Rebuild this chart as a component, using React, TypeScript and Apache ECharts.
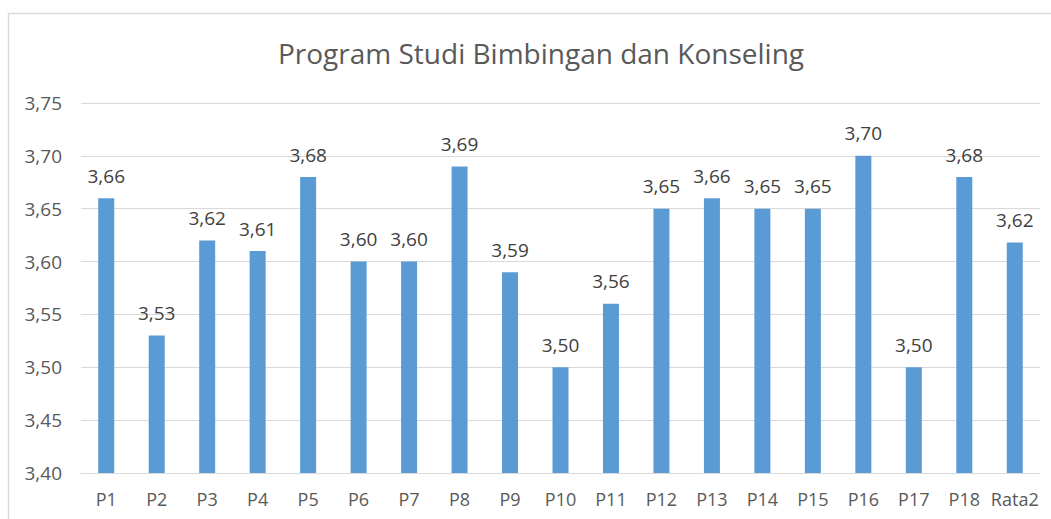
import React, { useEffect, useRef } from "react";
import * as echarts from "echarts";

const categories = ["P1","P2","P3","P4","P5","P6","P7","P8","P9","P10","P11","P12","P13","P14","P15","P16","P17","P18","Rata2"];
const values = [3.66,3.53,3.62,3.61,3.68,3.60,3.60,3.69,3.59,3.50,3.56,3.65,3.66,3.65,3.65,3.70,3.50,3.68,3.618];
const titleText = "Program Studi Bimbingan dan Konseling";

const fmt = (v: number) => v.toFixed(2).replace(".", ",");

export default function App() {
  const ref = useRef<HTMLDivElement>(null);
  useEffect(() => {
    if (!ref.current) return;
    const chart = echarts.init(ref.current, null, { renderer: "svg" });
    const font = "'Open Sans', 'Noto Sans', sans-serif";
    chart.setOption({
      animation: false,
      backgroundColor: "#ffffff",
      title: {
        text: titleText,
        left: 536,
        textAlign: "center",
        top: 34,
        textStyle: { fontFamily: font, fontSize: 28, fontWeight: "normal", color: "#595959" },
      },
      graphic: [
        {
          type: "rect",
          shape: { x: 8.5, y: 13.5, width: 1200, height: 700 },
          style: { fill: "none", stroke: "#d9d9d9", lineWidth: 1.5 },
          silent: true,
          z: -1,
        },
      ],
      grid: { left: 81, right: 11, top: 103, bottom: 46, containLabel: false },
      xAxis: {
        type: "category",
        data: categories,
        axisLine: { show: true, lineStyle: { color: "#d9d9d9", width: 1 } },
        axisTick: { show: false },
        axisLabel: { color: "#595959", fontFamily: font, fontSize: 18, margin: 17, interval: 0 },
      },
      yAxis: {
        type: "value",
        min: 3.4,
        max: 3.75,
        interval: 0.05,
        axisLine: { show: false },
        axisTick: { show: false },
        splitLine: { lineStyle: { color: "#d9d9d9", width: 1 } },
        axisLabel: {
          color: "#595959",
          fontFamily: font,
          fontSize: 19,
          margin: 19,
          formatter: (v: number) => fmt(v),
        },
      },
      series: [
        {
          type: "bar",
          data: values,
          barWidth: 16,
          itemStyle: { color: "#5b9bd5" },
          label: {
            show: true,
            position: "top",
            distance: 13,
            color: "#404040",
            fontFamily: font,
            fontSize: 19,
            formatter: (p: any) => fmt(p.value),
          },
        },
      ],
    });
    return () => chart.dispose();
  }, []);
  return (
    <div
      ref={ref}
      style={{ position: "fixed", left: 0, top: 0, width: 1051, height: 519 }}
    />
  );
}
